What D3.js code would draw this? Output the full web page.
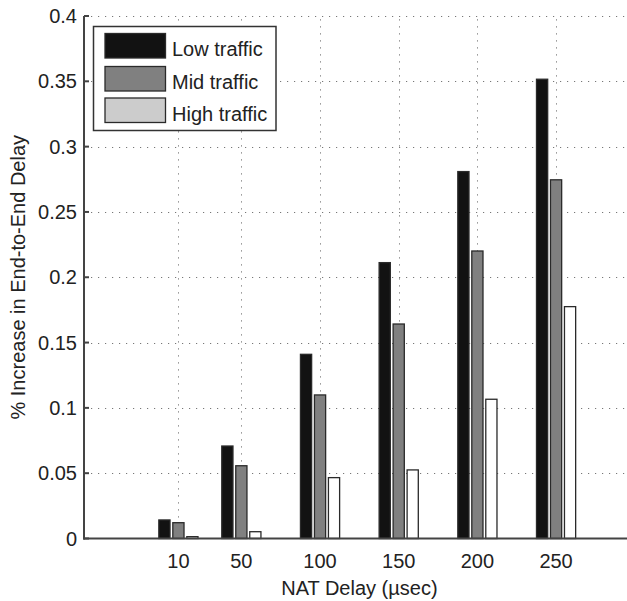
<!DOCTYPE html>
<html>
<head>
<meta charset="utf-8">
<script src="https://cdn.jsdelivr.net/npm/d3@7"></script>
<style>
  html, body { margin: 0; padding: 0; background: #fff; }
  svg { display: block; }
  text { font-family: "Liberation Sans", Arial, Helvetica, sans-serif; fill: #222; }
</style>
</head>
<body>
<script>
// ---- data ----
const categories = [10, 50, 100, 150, 200, 250];
const seriesNames = ["Low traffic", "Mid traffic", "High traffic"];
const lowTraffic  = [0.0142, 0.0708, 0.1410, 0.2112, 0.2809, 0.3516];
const midTraffic  = [0.0121, 0.0557, 0.1099, 0.1642, 0.2201, 0.2746];
const highTraffic = [0.0014, 0.0052, 0.0466, 0.0525, 0.1066, 0.1775];
const yTicks = [0, 0.05, 0.1, 0.15, 0.2, 0.25, 0.3, 0.35, 0.4];
const yTickLabels = ["0", "0.05", "0.1", "0.15", "0.2", "0.25", "0.3", "0.35", "0.4"];
const xLabel = "NAT Delay (\u00B5sec)";
const yLabel = "% Increase in End-to-End Delay";

const series = [lowTraffic, midTraffic, highTraffic];
const barFills = ["#121212", "#808080", "#ffffff"];
const legendFills = ["#121212", "#808080", "#cccccc"];

const W = 627, H = 601;
const svg = d3.select("body").append("svg").attr("width", W).attr("height", H);

const x = d3.scaleLinear().domain([-50, 300]).range([84, 634.75]);
const y = d3.scaleLinear().domain([0, 0.4]).range([538.5, 16]);

// grid
const grid = svg.append("g").attr("stroke", "#777").attr("stroke-width", 1)
  .attr("stroke-dasharray", "1.2,5.8");
grid.selectAll("line.h").data(yTicks.filter(d => d > 0)).join("line")
  .attr("x1", x(-50)).attr("x2", x(300))
  .attr("y1", d => Math.round(y(d)) + 0.5).attr("y2", d => Math.round(y(d)) + 0.5);
grid.selectAll("line.v").data(categories).join("line")
  .attr("x1", d => Math.round(x(d)) + 0.5).attr("x2", d => Math.round(x(d)) + 0.5)
  .attr("y1", y(0)).attr("y2", y(0.4));

// x ticks (inward)
svg.append("g").selectAll("line").data(categories).join("line")
  .attr("x1", d => x(d)).attr("x2", d => x(d))
  .attr("y1", y(0)).attr("y2", y(0) - 4)
  .attr("stroke", "#444").attr("stroke-width", 1.5);

// bars
const slot = 40 * (2 / 3) / 3;
const bw = slot * 0.8;
const bars = svg.append("g");
series.forEach((vals, si) => {
  bars.append("g").selectAll("rect").data(vals).join("rect")
    .attr("x", (d, i) => x(categories[i] + (si - 1) * slot - bw / 2))
    .attr("width", x(bw) - x(0))
    .attr("y", d => y(d))
    .attr("height", d => y(0) - y(d))
    .attr("fill", barFills[si])
    .attr("stroke", "#2a2a2a")
    .attr("stroke-width", 1.3);
});

// axes lines
svg.append("line").attr("x1", 84).attr("x2", 84).attr("y1", y(0.4)).attr("y2", y(0) + 1)
  .attr("stroke", "#444").attr("stroke-width", 2);
svg.append("line").attr("x1", 83).attr("x2", x(300)).attr("y1", y(0)).attr("y2", y(0))
  .attr("stroke", "#444").attr("stroke-width", 2);

// y ticks (inward)
svg.append("g").selectAll("line").data(yTicks).join("line")
  .attr("x1", 84).attr("x2", 89)
  .attr("y1", d => y(d)).attr("y2", d => y(d))
  .attr("stroke", "#444").attr("stroke-width", 2);

// y tick labels
svg.append("g").selectAll("text").data(yTicks).join("text")
  .attr("x", 77).attr("y", d => y(d) + 7)
  .attr("text-anchor", "end").attr("font-size", 20)
  .text((d, i) => yTickLabels[i]);

// x tick labels
svg.append("g").selectAll("text").data(categories).join("text")
  .attr("x", d => x(d)).attr("y", 568)
  .attr("text-anchor", "middle").attr("font-size", 20)
  .text(d => d);

// axis labels
svg.append("text").attr("x", (x(-50) + x(300)) / 2).attr("y", 595)
  .attr("text-anchor", "middle").attr("font-size", 20).text(xLabel);
svg.append("text")
  .attr("transform", `translate(25,${(y(0) + y(0.4)) / 2}) rotate(-90)`)
  .attr("text-anchor", "middle").attr("font-size", 20).text(yLabel);

// legend
const lg = svg.append("g");
lg.append("rect").attr("x", 93.5).attr("y", 26.5).attr("width", 182.5).attr("height", 104)
  .attr("fill", "#fff").attr("stroke", "#333").attr("stroke-width", 1.5);
const rowTops = [33.5, 66.5, 98];
seriesNames.forEach((name, i) => {
  lg.append("rect").attr("x", 105).attr("y", rowTops[i]).attr("width", 60.5).attr("height", 24.5)
    .attr("fill", legendFills[i]).attr("stroke", "#2a2a2a").attr("stroke-width", 1.3);
  lg.append("text").attr("x", 172).attr("y", rowTops[i] + 22.5)
    .attr("font-size", 20).text(name);
});
</script>
</body>
</html>
